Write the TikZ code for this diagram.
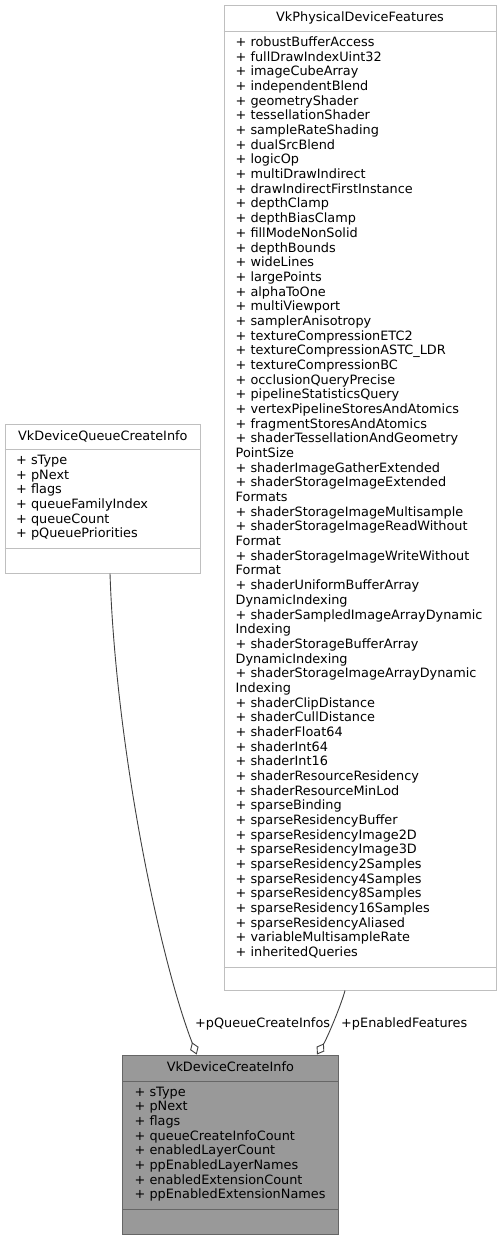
\documentclass[tikz,border=0pt]{standalone}
\usepackage{fontspec}
\setmainfont{DejaVu Sans}
\usetikzlibrary{arrows.meta}

\definecolor{boxline}{HTML}{BFBFBF}
\definecolor{mainfill}{HTML}{999999}
\definecolor{mainline}{HTML}{666666}
\definecolor{edgeline}{HTML}{404040}

\begin{document}
\begin{tikzpicture}[x=1pt, y=-1pt, >=latex,
	  font=\fontsize{12.85}{14.68}\selectfont]
	\tikzstyle{classbox} = [draw=boxline, fill=white, rectangle, inner sep=0, line width=1pt]
	\tikzstyle{mainbox} = [classbox, draw=mainline, fill=mainfill]
	\tikzstyle{title} = [anchor=base, inner sep=0]
	\tikzstyle{member} = [anchor=base west, inner sep=0]
	\tikzstyle{sep} = [draw=boxline, line width=1pt]
	\tikzstyle{edge} = [draw=edgeline, line width=0.9pt, -{Diamond[open, length=13pt, width=9pt]}]

	\useasboundingbox (0,0) rectangle (501,1240);

	% VkPhysicalDeviceFeatures
	\node [classbox, minimum width=272pt, minimum height=984.3pt] (features) at (360,497.85) {};
	\node [title] (features-title) at (360,21.5) {VkPhysicalDeviceFeatures};
	\draw [sep] (features.west |- 0,31.5) -- (features.east |- 0,31.5);
	\draw [sep] (features.west |- 0,967) -- (features.east |- 0,967);
	\foreach \m [count=\i] in {+ robustBufferAccess, + fullDrawIndexUint32, + imageCubeArray,
	    + independentBlend, + geometryShader, + tessellationShader, + sampleRateShading,
	    + dualSrcBlend, + logicOp, + multiDrawIndirect, + drawIndirectFirstInstance,
	    + depthClamp, + depthBiasClamp, + fillModeNonSolid, + depthBounds, + wideLines,
	    + largePoints, + alphaToOne, + multiViewport, + samplerAnisotropy,
	    + textureCompressionETC2, + textureCompressionASTC\_LDR, + textureCompressionBC,
	    + occlusionQueryPrecise, + pipelineStatisticsQuery, + vertexPipelineStoresAndAtomics,
	    + fragmentStoresAndAtomics, + shaderTessellationAndGeometry, PointSize,
	    + shaderImageGatherExtended, + shaderStorageImageExtended, Formats,
	    + shaderStorageImageMultisample, + shaderStorageImageReadWithout, Format,
	    + shaderStorageImageWriteWithout, Format, + shaderUniformBufferArray, DynamicIndexing,
	    + shaderSampledImageArrayDynamic, Indexing, + shaderStorageBufferArray, DynamicIndexing,
	    + shaderStorageImageArrayDynamic, Indexing, + shaderClipDistance, + shaderCullDistance,
	    + shaderFloat64, + shaderInt64, + shaderInt16, + shaderResourceResidency,
	    + shaderResourceMinLod, + sparseBinding, + sparseResidencyBuffer,
	    + sparseResidencyImage2D, + sparseResidencyImage3D, + sparseResidency2Samples,
	    + sparseResidency4Samples, + sparseResidency8Samples, + sparseResidency16Samples,
	    + sparseResidencyAliased, + variableMultisampleRate, + inheritedQueries}
	  \node [member] (features-m\i) at (235.5,{46.5+14.68*(\i-1)}) {\m};

	% VkDeviceQueueCreateInfo
	\node [classbox, minimum width=195.7pt, minimum height=149pt] (queue) at (102.85,498.5) {};
	\node [title] (queue-title) at (102.85,440.5) {VkDeviceQueueCreateInfo};
	\draw [sep] (queue.west |- 0,449) -- (queue.east |- 0,449);
	\draw [sep] (queue.west |- 0,548) -- (queue.east |- 0,548);
	\foreach \m [count=\i] in {sType, pNext, flags, queueFamilyIndex, queueCount, pQueuePriorities}
	  \node [member] (queue-m\i) at (16,{464.5+14.68*(\i-1)}) {+ \m};

	% VkDeviceCreateInfo
	\node [mainbox, minimum width=215.3pt, minimum height=179pt] (device) at (230.35,1144.5) {};
	\node [title] (device-title) at (230.35,1071) {VkDeviceCreateInfo};
	\draw [sep, draw=mainline] (device.west |- 0,1081) -- (device.east |- 0,1081);
	\draw [sep, draw=mainline] (device.west |- 0,1209) -- (device.east |- 0,1209);
	\foreach \m [count=\i] in {sType, pNext, flags, queueCreateInfoCount, enabledLayerCount,
	    ppEnabledLayerNames, enabledExtensionCount, ppEnabledExtensionNames}
	  \node [member] (device-m\i) at (134.5,{1096+14.68*(\i-1)}) {+ \m};

	% aggregations
	\draw [edge] ([xshift=7.15pt]queue.south) .. controls +(6,177) and +(-36.7,-95) .. ([xshift=-33.65pt]device.north);
	\draw [edge] ([xshift=-15pt]features.south) .. controls +(-4,15) and +(10,-16) .. ([xshift=86.65pt]device.north);
	\node [member] (queue-label) at (195,1027.3) {+pQueueCreateInfos};
	\node [member] (features-label) at (341,1027.3) {+pEnabledFeatures};
\end{tikzpicture}
\end{document}
